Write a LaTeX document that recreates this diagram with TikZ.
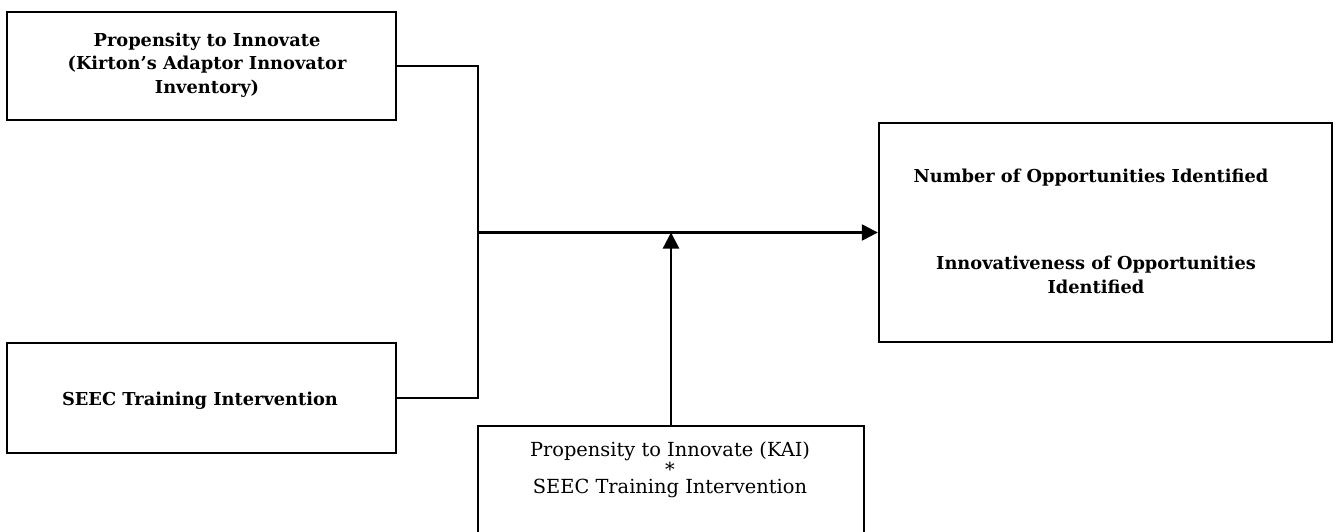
\documentclass[tikz,border=0pt]{standalone}
\usepackage{fontspec}
\setmainfont{DejaVu Serif}
\usetikzlibrary{arrows.meta}
\begin{document}
\begin{tikzpicture}[x=1pt,y=-1pt,
  box/.style={draw, line width=2.4pt, inner sep=0pt},
  conn/.style={line width=2.4pt},
  arr/.style={conn,-{Triangle[length=16pt,width=16pt]}},
  lbl/.style={font=\bfseries\fontsize{17.8}{23.5}\selectfont, align=center, inner sep=0pt},
  lblr/.style={font=\fontsize{19.4}{17.5}\selectfont, align=center, inner sep=0pt}]
\useasboundingbox (0,0) rectangle (1337,531);
% boxes
\node[box, minimum width=389pt, minimum height=108pt] (b1) at (201.5,66) {};
\node[box, minimum width=389pt, minimum height=110pt] (b2) at (201.5,398) {};
\node[box, minimum width=453pt, minimum height=219pt] (b3) at (1105.5,232.5) {};
\node[box, minimum width=386pt, minimum height=110pt] (b4) at (671,481) {};
% texts
\node[lbl] (t1) at (207,65) {Propensity to Innovate\\(Kirton’s Adaptor Innovator\\Inventory)};
\node[lbl] (t2) at (200,401) {SEEC Training Intervention};
\node[lbl] (t3a) at (1091,178) {Number of Opportunities Identified};
\node[lbl] (t3b) at (1096,275) {Innovativeness of Opportunities\\Identified};
\node[lblr] (t4) at (670,470) {Propensity to Innovate (KAI)\\*\\SEEC Training Intervention};
% connectors
\coordinate (bus) at (478,232.5);
\draw[conn] (b1.east) -| (bus) |- (b2.east);
\draw[arr] (bus) -- (b3.west);
\draw[arr] (b4.north) -- (b4.north |- bus);
\end{tikzpicture}
\end{document}
